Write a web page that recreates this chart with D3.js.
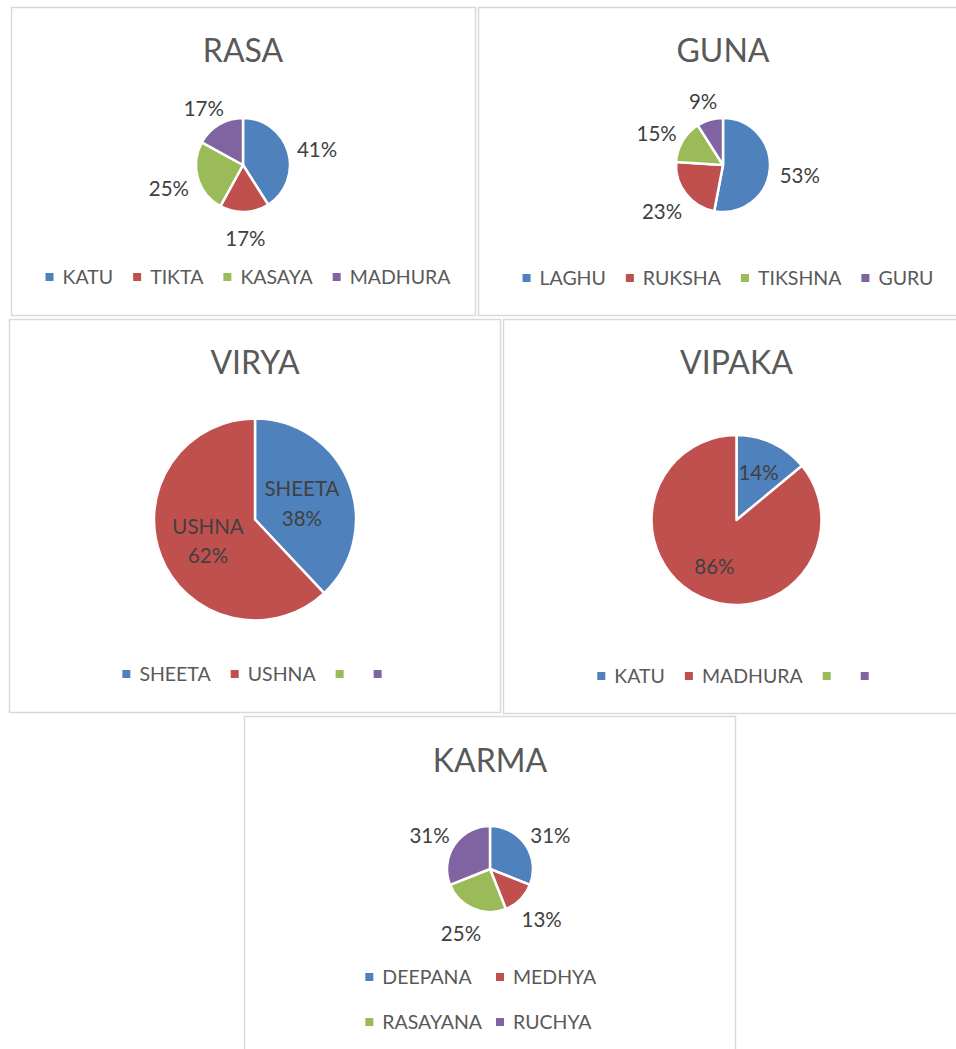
<!DOCTYPE html>
<html>
<head>
<meta charset="utf-8">
<script src="https://cdn.jsdelivr.net/npm/d3@7"></script>
<style>
  html, body { margin: 0; padding: 0; background: #fff; }
  svg { display: block; font-family: Lato, "Open Sans", sans-serif; }
</style>
</head>
<body>
<svg id="chart" width="956" height="1049"></svg>
<script>
// ---------- data ----------
const rasaCategories = ["KATU", "TIKTA", "KASAYA", "MADHURA"];
const rasaValues = [41, 17, 25, 17];

const gunaCategories = ["LAGHU", "RUKSHA", "TIKSHNA", "GURU"];
const gunaValues = [53, 23, 15, 9];

const viryaCategories = ["SHEETA", "USHNA", "", ""];
const viryaValues = [38, 62, null, null];

const vipakaCategories = ["KATU", "MADHURA", "", ""];
const vipakaValues = [14, 86, null, null];

const karmaCategories = ["DEEPANA", "MEDHYA", "RASAYANA", "RUCHYA"];
const karmaValues = [31, 13, 25, 31];

const seriesColors = ["#4F81BD", "#C0504D", "#9BBB59", "#8064A2"];

// ---------- layout ----------
const charts = [
  { title: "RASA", cats: rasaCategories, vals: rasaValues,
    box: [11.5, 7.5, 464, 308], cx: 243, cy: 165, r: 47, titleY: 62,
    label: "outside", legendY: 277, legendCx: 248, legendCols: 0 },
  { title: "GUNA", cats: gunaCategories, vals: gunaValues,
    box: [478.5, 7.5, 500, 308], cx: 723, cy: 165, r: 47, titleY: 62,
    label: "outside", legendY: 278, legendCx: 728, legendCols: 0 },
  { title: "VIRYA", cats: viryaCategories, vals: viryaValues,
    box: [9.5, 319.5, 491, 393], cx: 255, cy: 519.5, r: 101, titleY: 374,
    label: "insideName", labelFrac: 0.5, legendY: 674, legendCx: 257, legendCols: 0 },
  { title: "VIPAKA", cats: vipakaCategories, vals: vipakaValues,
    box: [503.5, 319.5, 500, 394], cx: 736.5, cy: 520, r: 85, titleY: 374,
    label: "inside", labelFrac: 0.61, legendY: 676, legendCx: 738, legendCols: 0 },
  { title: "KARMA", cats: karmaCategories, vals: karmaValues,
    box: [244.5, 716.5, 491, 400], cx: 490, cy: 869, r: 43, titleY: 772,
    label: "outside", legendY: 977, legendCx: 486, legendCols: 2, rowGap: 45 }
];

const svg = d3.select("#chart");
const color = d3.scaleOrdinal().range(seriesColors);

charts.forEach(c => {
  const g = svg.append("g");
  const [bx, by, bw, bh] = c.box;
  g.append("rect")
    .attr("x", bx).attr("y", by).attr("width", bw).attr("height", bh)
    .attr("fill", "#fff").attr("stroke", "#d9d9d9").attr("stroke-width", 1.5);

  g.append("text")
    .attr("x", c.cx).attr("y", c.titleY)
    .attr("text-anchor", "middle")
    .attr("fill", "#595959")
    .attr("font-size", 32)
    .text(c.title);

  color.domain(d3.range(c.cats.length));
  const data = c.cats.map((name, i) => ({ name, value: c.vals[i], i }));

  const pie = d3.pie().sort(null).value(d => d.value || 0);
  const arcs = pie(data);
  const arc = d3.arc().innerRadius(0).outerRadius(c.r);

  const pg = g.append("g").attr("transform", `translate(${c.cx},${c.cy})`);
  pg.selectAll("path")
    .data(arcs.filter(a => a.data.value))
    .join("path")
    .attr("d", arc)
    .attr("fill", d => color(d.data.i))
    .attr("stroke", "#fff")
    .attr("stroke-width", 2.5)
    .attr("stroke-linejoin", "round");

  // data labels
  arcs.filter(a => a.data.value).forEach(a => {
    const mid = (a.startAngle + a.endAngle) / 2;
    const dx = Math.sin(mid), dy = -Math.cos(mid);
    const txt = pg.append("text")
      .attr("text-anchor", "middle")
      .attr("fill", "#404040")
      .attr("font-size", 20.5);
    if (c.label === "outside") {
      txt.text(a.data.value + "%");
      const w = txt.node().getComputedTextLength();
      const h = 26;
      const pad = 10;
      const x = dx * (c.r + pad) + dx * w / 2;
      const y = dy * (c.r + pad) + dy * h / 2 + 4;
      txt.attr("x", x).attr("y", y).attr("dy", "0.35em");
    } else if (c.label === "insideName") {
      const x = dx * c.r * c.labelFrac, y = dy * c.r * c.labelFrac;
      txt.append("tspan").attr("x", x).attr("y", y).attr("dy", "-0.22em").text(a.data.name);
      txt.append("tspan").attr("x", x).attr("y", y).attr("dy", "1.2em").text(a.data.value + "%");
    } else {
      const x = dx * c.r * c.labelFrac, y = dy * c.r * c.labelFrac;
      txt.attr("x", x).attr("y", y).attr("dy", "0.35em").text(a.data.value + "%");
    }
  });

  // legend
  const lg = g.append("g");
  const fs = 19.5, markerGap = 17, spacing = 20, msz = 8;
  const items = data.map(d => {
    const ig = lg.append("g");
    ig.append("rect").attr("width", msz).attr("height", msz)
      .attr("y", -msz / 2).attr("fill", color(d.i));
    const t = ig.append("text").attr("x", markerGap).attr("dy", "0.35em")
      .attr("fill", "#595959").attr("font-size", fs).text(d.name);
    const w = d.name ? t.node().getComputedTextLength() : 0;
    return { g: ig, w: d.name ? markerGap + w : msz + 10 };
  });
  if (!c.legendCols) {
    const total = d3.sum(items, it => it.w) + spacing * (items.length - 1);
    let x = c.legendCx - total / 2;
    items.forEach(it => {
      it.g.attr("transform", `translate(${x},${c.legendY})`);
      x += it.w + spacing;
    });
  } else {
    const colSpacing = 14;
    const colW = d3.max(items, it => it.w) + colSpacing;
    const total = colW * c.legendCols - colSpacing;
    const x0 = c.legendCx - total / 2 + 3;
    items.forEach((it, i) => {
      const col = i % c.legendCols, row = Math.floor(i / c.legendCols);
      it.g.attr("transform", `translate(${x0 + col * colW},${c.legendY + row * c.rowGap})`);
    });
  }
});
</script>
</body>
</html>
